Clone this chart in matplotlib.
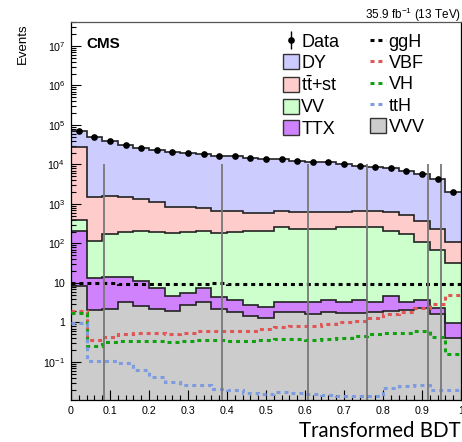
import numpy as np
import matplotlib
matplotlib.use('Agg')
import matplotlib.pyplot as plt
import matplotlib.ticker as ticker
from matplotlib.patches import Patch
from matplotlib.lines import Line2D

plt.rcParams['font.family'] = 'Liberation Sans'
plt.rcParams['mathtext.fontset'] = 'custom'
plt.rcParams['mathtext.rm'] = 'Liberation Sans'
plt.rcParams['mathtext.it'] = 'Liberation Sans:italic'

# 25 bins of the transformed BDT output
bin_edges = np.linspace(0.0, 1.0, 26)

data = [71800, 50600, 38700, 31700, 26200, 23300, 20700, 19200, 18100, 16700,
        16700, 14900, 13800, 13800, 12300, 11800, 11400, 10500, 9160, 8800,
        8000, 6730, 5750, 4370, 2050]

# backgrounds, bottom of the stack first
vvv = [8.40, 2.11, 2.23, 3.36, 2.65, 2.23, 1.92, 2.77, 3.25, 2.17, 1.79, 1.46, 1.28,
       1.88, 1.88, 1.61, 1.85, 1.71, 1.71, 1.88, 1.99, 2.07, 2.28, 1.61, 0.41]
ttx = [203, 11.3, 12.2, 11.0, 8.75, 5.12, 2.77, 2.71, 4.10, 2.13, 1.82, 1.31, 1.23,
       1.48, 1.48, 1.75, 1.87, 1.65, 2.01, 1.37, 2.70, 1.18, 1.44, 0.76, 0.58]
vv = [183, 105, 160, 185, 200, 192, 176, 194, 204, 177, 191, 208, 209,
      254, 234, 234, 233, 254, 262, 254, 206, 171, 107, 66, 31.7]
ttst = [26800, 1410, 1430, 1280, 1100, 944, 643, 625, 594, 484, 470, 381, 381,
        408, 401, 379, 379, 381, 410, 419, 416, 343, 267, 169, 78]
dy = [44600, 49100, 37100, 30200, 24900, 22200, 19900, 18400, 17300, 16000, 16000,
      14300, 13200, 13100, 11700, 11200, 10800, 9860, 8480, 8120, 7370, 6210,
      5370, 4130, 1940]

# signal processes (not stacked)
ggh = [10.2, 10.2, 10.2, 9.6, 9.4, 9.5, 9.4, 9.6, 9.7, 9.8, 9.6, 9.7, 9.5,
       9.6, 9.7, 9.6, 9.7, 9.5, 9.7, 9.6, 9.7, 9.6, 9.7, 9.6, 9.7]
vbf = [1.95, 0.361, 0.430, 0.520, 0.533, 0.542, 0.520, 0.552, 0.598, 0.617, 0.617,
       0.617, 0.673, 0.769, 0.792, 0.825, 0.889, 1.00, 1.06, 1.30, 1.64, 1.85,
       2.33, 2.86, 4.83]
vh = [1.74, 0.254, 0.315, 0.334, 0.340, 0.336, 0.317, 0.334, 0.361, 0.352, 0.340,
      0.340, 0.361, 0.382, 0.382, 0.361, 0.391, 0.412, 0.463, 0.512, 0.552, 0.552,
      0.610, 0.438, 0.157]
tth = [0.99, 0.105, 0.105, 0.0944, 0.0616, 0.0417, 0.0312, 0.0262, 0.0254, 0.0210,
       0.0192, 0.0167, 0.0152, 0.0171, 0.0167, 0.0155, 0.0146, 0.0140, 0.0140,
       0.0140, 0.0216, 0.0251, 0.0262, 0.0195, 0.0195]

# category boundaries on the BDT output
cat_bounds = [0.085, 0.387, 0.608, 0.760, 0.915, 0.950]

bkg_names = ['VVV', 'TTX', 'VV', r'$\mathregular{t\bar{t}}$+st', 'DY']
bkg_values = [vvv, ttx, vv, ttst, dy]
bkg_colors = ['#cccccc', '#cf82fb', '#ccffcc', '#ffcccc', '#ccccff']

sig_names = ['ggH', 'VBF', 'VH', 'ttH']
sig_values = [ggh, vbf, vh, tth]
sig_colors = ['black', '#e05555', '#10a010', '#7f9be0']

ymin, ymax = 0.0109, 4.05e7

fig = plt.figure(figsize=(4.62, 4.42), dpi=100)
ax = fig.add_axes([71/462, 42/442, 390/462, 378/442])

# stacked backgrounds
bottom = np.zeros(len(data))
for vals, col in zip(bkg_values, bkg_colors):
    top = bottom + np.array(vals)
    ax.stairs(top, bin_edges, baseline=np.maximum(bottom, ymin), fill=True,
              color=col, lw=0, zorder=1)
    ax.stairs(top, bin_edges, baseline=None, color='#222222', lw=1.2, zorder=2)
    bottom = top

for vals, col in zip(sig_values, sig_colors):
    ax.stairs(vals, bin_edges, baseline=None, color=col, lw=2.2,
              linestyle=(0, (1.3, 1.3)), zorder=3)

ax.vlines(cat_bounds, ymin, 1e4, color='#777777', lw=1.3, zorder=4)

centers = 0.5 * (bin_edges[1:] + bin_edges[:-1])
data_h = ax.errorbar(centers, data, yerr=np.sqrt(data), fmt='o', color='black',
                     ms=3.8, lw=1, zorder=5)

ax.set_yscale('log')
ax.set_xlim(0, 1)
ax.set_ylim(ymin, ymax)


def log_label(v, pos):
    e = int(round(np.log10(v)))
    if e == 0:
        return '1'
    if e == 1:
        return '10'
    return r'$\mathregular{10^{%d}}$' % e


ax.yaxis.set_major_locator(ticker.LogLocator(base=10, numticks=20))
ax.yaxis.set_minor_locator(ticker.LogLocator(base=10, subs=np.arange(2, 10), numticks=20))
ax.yaxis.set_major_formatter(ticker.FuncFormatter(log_label))
ax.yaxis.set_minor_formatter(ticker.NullFormatter())
ax.xaxis.set_major_locator(ticker.MultipleLocator(0.1))
ax.xaxis.set_minor_locator(ticker.MultipleLocator(0.02))
ax.xaxis.set_major_formatter(ticker.FuncFormatter(lambda v, p: '%g' % round(v, 1)))
ax.tick_params(which='major', direction='in', length=7, width=0.8, labelsize=7.7, pad=4)
ax.tick_params(which='minor', direction='in', length=3.6, width=0.8)
ax.tick_params(axis='both', which='both', top=False, right=False)
for s in ax.spines.values():
    s.set_linewidth(0.9)
ax.spines['top'].set_color('#555555')

fig.text(23/462, 1 - 23/442, 'Events', rotation=90, ha='center', va='top', fontsize=9.5)
fig.text(86/462, 1 - 44/442, 'CMS', fontweight='bold', ha='left', va='center', fontsize=11)
fig.text(461/462, 1 - 15/442, r'35.9 fb$^{-1}$ (13 TeV)', ha='right', va='center', fontsize=8.5)
fig.text(461/462, 1 - 431/442, 'Transformed BDT', ha='right', va='center',
         fontsize=14.8, family='Lato')

# legend: two columns
handles = [data_h]
labels = ['Data']
for name in ['DY', r'$\mathregular{t\bar{t}}$+st', 'VV', 'TTX']:
    i = bkg_names.index(name)
    handles.append(Patch(facecolor=bkg_colors[i], edgecolor='#333333', lw=1))
    labels.append(name)
for name, col in zip(sig_names, sig_colors):
    handles.append(Line2D([], [], color=col, lw=2.2, linestyle=(0, (1.3, 1.3))))
    labels.append(name)
handles.append(Patch(facecolor=bkg_colors[0], edgecolor='#333333', lw=1))
labels.append('VVV')

ax.legend(handles, labels, ncol=2, loc='upper left',
          bbox_to_anchor=((283 - 71) / 390, (400 - 33) / 378),
          frameon=False, fontsize=13, borderpad=0, borderaxespad=0,
          handlelength=0.9, handleheight=0.9, handletextpad=0.12,
          labelspacing=0.2, columnspacing=1.7)

fig.savefig('out.png', dpi=100)
